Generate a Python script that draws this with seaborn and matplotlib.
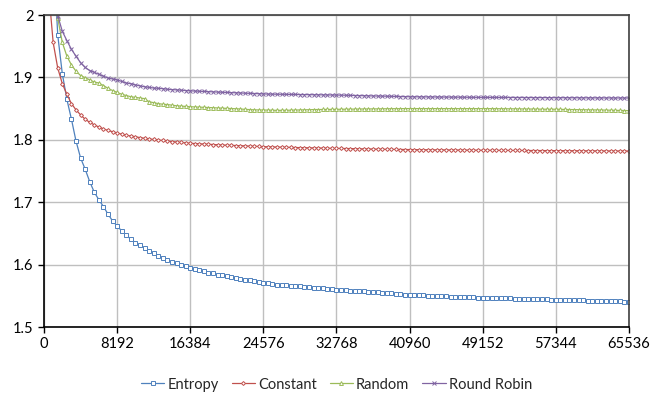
import numpy as np
import pandas as pd
import matplotlib
matplotlib.use("Agg")
import matplotlib.pyplot as plt
import seaborn as sns

# x positions: every 512 up to 65536
sizes = list(range(512, 65536 + 1, 512))

entropy = [
    2.40, 2.11, 1.968, 1.906, 1.865, 1.833, 1.798, 1.771, 1.753, 1.733, 1.716, 1.704, 1.693, 1.681, 1.670, 1.662,
    1.654, 1.647, 1.641, 1.635, 1.631, 1.626, 1.622, 1.618, 1.614, 1.611, 1.607, 1.604, 1.602, 1.599, 1.597, 1.595,
    1.593, 1.591, 1.589, 1.587, 1.586, 1.584, 1.583, 1.581, 1.580, 1.578, 1.577, 1.576, 1.575, 1.574, 1.572, 1.571,
    1.570, 1.569, 1.568, 1.568, 1.567, 1.566, 1.566, 1.565, 1.564, 1.564, 1.563, 1.562, 1.562, 1.561, 1.561, 1.560,
    1.5595, 1.559, 1.5585, 1.558, 1.5575, 1.557, 1.5565, 1.556, 1.5555, 1.555, 1.5545, 1.554, 1.5535, 1.553, 1.552, 1.5515,
    1.551, 1.551, 1.5505, 1.550, 1.550, 1.5495, 1.549, 1.549, 1.5485, 1.548, 1.548, 1.548, 1.5475, 1.5475, 1.547, 1.547,
    1.5468, 1.5466, 1.5464, 1.5462, 1.546, 1.5458, 1.5456, 1.5454, 1.5452, 1.545, 1.5448, 1.5446, 1.5444, 1.5442, 1.544, 1.5438,
    1.5436, 1.5434, 1.5432, 1.543, 1.5428, 1.5426, 1.5424, 1.5422, 1.542, 1.5418, 1.5416, 1.5414, 1.5412, 1.541, 1.5408, 1.5406,
]

constant = [
    2.04, 1.956, 1.915, 1.890, 1.873, 1.858, 1.848, 1.840, 1.833, 1.828, 1.824, 1.8205, 1.8175, 1.815, 1.813, 1.811,
    1.809, 1.8075, 1.806, 1.805, 1.8035, 1.8025, 1.8015, 1.8005, 1.7995, 1.799, 1.798, 1.7972, 1.7965, 1.7958, 1.795, 1.7944,
    1.794, 1.7936, 1.7932, 1.7928, 1.7924, 1.792, 1.7917, 1.7914, 1.7911, 1.7908, 1.7905, 1.7902, 1.7899, 1.7896, 1.7893, 1.789,
    1.7888, 1.7886, 1.7884, 1.7882, 1.788, 1.7878, 1.7876, 1.7874, 1.7873, 1.7872, 1.787, 1.7869, 1.7867, 1.7866, 1.7864, 1.7863,
    1.7862, 1.786, 1.7859, 1.7857, 1.7856, 1.7855, 1.7853, 1.7852, 1.785, 1.7849, 1.7848, 1.7847, 1.7845, 1.7844, 1.7843, 1.7842,
    1.7841, 1.7841, 1.784, 1.784, 1.7839, 1.7839, 1.7838, 1.7838, 1.7837, 1.7837, 1.7836, 1.7836, 1.7835, 1.7834, 1.7834, 1.7833,
    1.7833, 1.7832, 1.7832, 1.7831, 1.7831, 1.783, 1.783, 1.7829, 1.7829, 1.7828, 1.7828, 1.7828, 1.7827, 1.7827, 1.7826, 1.7826,
    1.7826, 1.7825, 1.7825, 1.7825, 1.7824, 1.7824, 1.7823, 1.7823, 1.7823, 1.7822, 1.7822, 1.7821, 1.7821, 1.7821, 1.782, 1.782,
]

random_ = [
    2.12, 2.04, 1.995, 1.956, 1.934, 1.920, 1.910, 1.903, 1.8995, 1.896, 1.8926, 1.891, 1.887, 1.8825, 1.879, 1.876,
    1.873, 1.871, 1.869, 1.868, 1.867, 1.866, 1.861, 1.8595, 1.858, 1.857, 1.8565, 1.8555, 1.8545, 1.854, 1.8535, 1.853,
    1.8527, 1.8523, 1.852, 1.8517, 1.8514, 1.851, 1.8507, 1.8504, 1.85, 1.8497, 1.8494, 1.8488, 1.8484, 1.848, 1.8479, 1.8478,
    1.8476, 1.8474, 1.8472, 1.8472, 1.8473, 1.8475, 1.8477, 1.8479, 1.848, 1.8482, 1.8484, 1.8485, 1.8487, 1.8488, 1.8489, 1.849,
    1.849, 1.8491, 1.8492, 1.8492, 1.8493, 1.8494, 1.8494, 1.8495, 1.8496, 1.8496, 1.8497, 1.8498, 1.8498, 1.8499, 1.85, 1.85,
    1.85, 1.85, 1.8501, 1.8501, 1.8501, 1.85, 1.85, 1.85, 1.8499, 1.85, 1.85, 1.8501, 1.8501, 1.85, 1.85, 1.85,
    1.8499, 1.8499, 1.8498, 1.8498, 1.8497, 1.8497, 1.8496, 1.8495, 1.8494, 1.8494, 1.8493, 1.8492, 1.8491, 1.849, 1.849, 1.849,
    1.8488, 1.8487, 1.8485, 1.8484, 1.8483, 1.8482, 1.848, 1.8479, 1.8478, 1.8477, 1.8476, 1.8474, 1.8472, 1.847, 1.8468, 1.8467,
]

round_robin = [
    2.15, 2.06, 1.999, 1.974, 1.959, 1.945, 1.934, 1.9236, 1.916, 1.911, 1.908, 1.905, 1.902, 1.899, 1.8975, 1.896,
    1.8935, 1.891, 1.890, 1.888, 1.8865, 1.885, 1.884, 1.883, 1.8825, 1.882, 1.881, 1.8805, 1.880, 1.8795, 1.879, 1.8785,
    1.8782, 1.8778, 1.8775, 1.8772, 1.8768, 1.8765, 1.8762, 1.876, 1.8757, 1.8754, 1.8751, 1.8748, 1.8745, 1.8742, 1.8738, 1.8734,
    1.8733, 1.8732, 1.8731, 1.873, 1.8729, 1.8728, 1.8727, 1.8726, 1.8725, 1.8724, 1.8723, 1.8722, 1.8721, 1.872, 1.8719, 1.8718,
    1.8716, 1.8714, 1.8712, 1.871, 1.8709, 1.8707, 1.8705, 1.8703, 1.8702, 1.87, 1.8699, 1.8697, 1.8695, 1.8693, 1.8692, 1.869,
    1.8689, 1.8689, 1.8688, 1.8688, 1.8687, 1.8686, 1.8686, 1.8685, 1.8685, 1.8684, 1.8683, 1.8683, 1.8682, 1.8681, 1.8681, 1.868,
    1.868, 1.868, 1.8679, 1.8679, 1.8679, 1.8678, 1.8678, 1.8678, 1.8677, 1.8677, 1.8677, 1.8676, 1.8676, 1.8676, 1.8675, 1.8675,
    1.8675, 1.8674, 1.8674, 1.8674, 1.8673, 1.8673, 1.8673, 1.8672, 1.8672, 1.8672, 1.8671, 1.8671, 1.8671, 1.867, 1.867, 1.867,
]

series_names = ["Entropy", "Constant", "Random", "Round Robin"]
series_values = [entropy, constant, random_, round_robin]
colors = ["#4F81BD", "#C0504D", "#9BBB59", "#8064A2"]
markers = ["s", "D", "^", "x"]
msizes = [2.8, 2.0, 2.8, 2.6]

xticks = list(range(0, 65536 + 1, 8192))
yticks = [1.5, 1.6, 1.7, 1.8, 1.9, 2.0]
ytick_labels = ["1.5", "1.6", "1.7", "1.8", "1.9", "2"]

df = pd.concat(
    [pd.DataFrame({"size": sizes, "value": v, "series": n}) for n, v in zip(series_names, series_values)],
    ignore_index=True,
)

sns.set_style("white")
plt.rcParams["font.family"] = ["Lato", "DejaVu Sans"]

fig = plt.figure(figsize=(6.64, 3.97), dpi=100)
ax = fig.add_axes([0.0663, 0.1763, 0.8807, 0.7859])

for name, c, m, ms in zip(series_names, colors, markers, msizes):
    sub = df[df["series"] == name]
    sns.lineplot(data=sub, x="size", y="value", ax=ax, color=c, linewidth=0.9,
                 marker=m, markersize=ms, markerfacecolor="white" if m != "x" else c,
                 markeredgecolor=c, markeredgewidth=0.7, label=name)

ax.set_xlim(0, 65536)
ax.set_ylim(1.5, 2.0)
ax.set_xticks(xticks)
ax.set_xticklabels([str(t) for t in xticks])
ax.set_yticks(yticks)
ax.set_yticklabels(ytick_labels)
ax.grid(True, color="#BFBFBF", linewidth=1.0)
ax.set_axisbelow(True)
ax.set_xlabel("")
ax.set_ylabel("")
ax.tick_params(axis="both", labelsize=10.5, length=4, width=1, direction="out",
               bottom=True, left=True, colors="black")
for side in ["left", "bottom"]:
    ax.spines[side].set_color("black")
    ax.spines[side].set_linewidth(1.2)
for side in ["top", "right"]:
    ax.spines[side].set_color("#404040")
    ax.spines[side].set_linewidth(1.2)

leg = ax.legend(loc="upper center", bbox_to_anchor=(0.5, -0.12), ncol=4, frameon=False,
                fontsize=10.5, handlelength=1.6, handletextpad=0.2, columnspacing=0.9)

fig.savefig("out.png", dpi=100)
